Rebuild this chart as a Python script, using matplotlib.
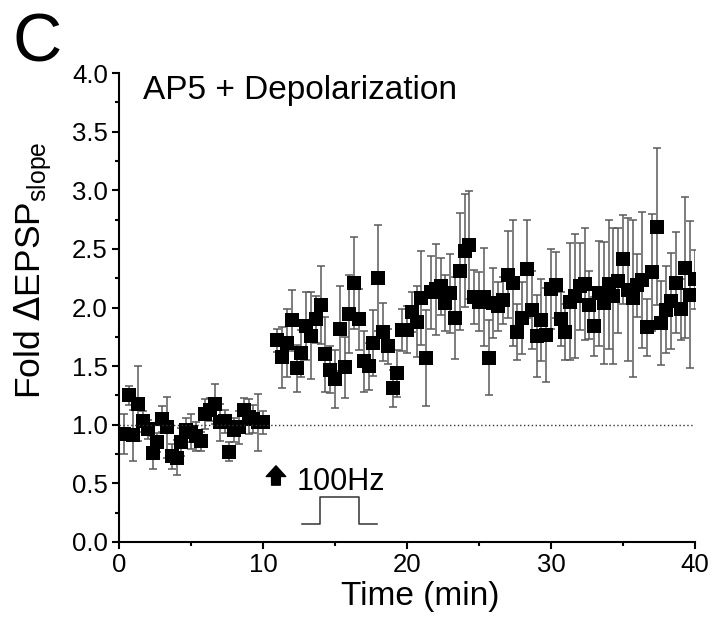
import numpy as np
import matplotlib
matplotlib.use("Agg")
import matplotlib.pyplot as plt
from matplotlib.ticker import MultipleLocator, FormatStrFormatter

plt.rcParams['font.family'] = ['Liberation Sans', 'DejaVu Sans']

# ---- data ----
base_time = [0.33, 0.67, 1.0, 1.33, 1.67, 2.0, 2.33, 2.67, 3.0, 3.33,
             3.67, 4.0, 4.33, 4.67, 5.0, 5.33, 5.67, 6.0, 6.33, 6.67,
             7.0, 7.33, 7.67, 8.0, 8.33, 8.67, 9.0, 9.33, 9.67, 10.0]
base_val = [0.92, 1.25, 0.91, 1.18, 1.03, 0.96, 0.76, 0.85, 1.05, 0.98,
            0.73, 0.72, 0.85, 0.955, 0.94, 0.90, 0.86, 1.09, 1.13, 1.18,
            1.02, 1.03, 0.77, 0.955, 0.98, 1.13, 1.07, 1.05, 1.02, 1.02]
base_err = [0.17, 0.08, 0.22, 0.32, 0.09, 0.08, 0.14, 0.08, 0.11, 0.26,
            0.11, 0.15, 0.12, 0.10, 0.15, 0.12, 0.08, 0.13, 0.10, 0.17,
            0.16, 0.10, 0.08, 0.10, 0.14, 0.10, 0.15, 0.12, 0.24, 0.10]

post_time = [11.0, 11.33, 11.67, 12.0, 12.33, 12.67, 13.0, 13.33, 13.67, 14.0,
             14.33, 14.67, 15.0, 15.33, 15.67, 16.0, 16.33, 16.67, 17.0, 17.33,
             17.67, 18.0, 18.33, 18.67, 19.0, 19.33, 19.67, 20.0, 20.33, 20.67,
             21.0, 21.33, 21.67, 22.0, 22.33, 22.67, 23.0, 23.33, 23.67, 24.0,
             24.33, 24.67, 25.0, 25.33, 25.67, 26.0, 26.33, 26.67, 27.0, 27.33,
             27.67, 28.0, 28.33, 28.67, 29.0, 29.33, 29.67, 30.0, 30.33, 30.67,
             31.0, 31.33, 31.67, 32.0, 32.33, 32.67, 33.0, 33.33, 33.67, 34.0,
             34.33, 34.67, 35.0, 35.33, 35.67, 36.0, 36.33, 36.67, 37.0, 37.33,
             37.67, 38.0, 38.33, 38.67, 39.0, 39.33, 39.67, 40.0]
post_val = [1.72, 1.575, 1.70, 1.89, 1.48, 1.61, 1.84, 1.76, 1.90, 2.02,
            1.60, 1.47, 1.39, 1.82, 1.49, 1.945, 2.21, 1.90, 1.54, 1.50,
            1.70, 2.25, 1.79, 1.67, 1.31, 1.44, 1.81, 1.81, 1.96, 1.88,
            2.08, 1.57, 2.13, 2.155, 2.18, 2.04, 2.12, 1.91, 2.31, 2.485,
            2.53, 2.09, 2.05, 2.09, 1.57, 2.04, 2.01, 2.06, 2.28, 2.21,
            1.79, 1.91, 2.33, 1.98, 1.76, 1.89, 1.765, 2.16, 2.19, 1.90,
            1.79, 2.05, 2.10, 2.18, 2.20, 2.02, 1.84, 2.12, 2.04, 2.20,
            2.10, 2.23, 2.41, 2.15, 2.08, 2.19, 2.235, 1.83, 2.30, 2.69,
            1.87, 1.98, 2.055, 2.21, 1.985, 2.34, 2.11, 2.24]
post_err = [0.10, 0.26, 0.29, 0.26, 0.20, 0.20, 0.29, 0.37, 0.20, 0.33,
            0.32, 0.20, 0.25, 0.36, 0.26, 0.33, 0.39, 0.26, 0.26, 0.20,
            0.28, 0.45, 0.25, 0.15, 0.16, 0.20, 0.18, 0.20, 0.17, 0.30,
            0.40, 0.41, 0.31, 0.39, 0.24, 0.24, 0.34, 0.35, 0.50, 0.48,
            0.46, 0.23, 0.25, 0.42, 0.32, 0.30, 0.21, 0.20, 0.37, 0.54,
            0.24, 0.31, 0.42, 0.33, 0.35, 0.35, 0.40, 0.34, 0.28, 0.23,
            0.24, 0.50, 0.53, 0.37, 0.48, 0.29, 0.25, 0.45, 0.52, 0.55,
            0.58, 0.45, 0.38, 0.61, 0.67, 0.27, 0.58, 0.24, 0.50, 0.67,
            0.36, 0.37, 0.41, 0.43, 0.26, 0.60, 0.63, 0.25]

stim_x = [12.7, 13.95, 13.95, 16.65, 16.65, 17.9]
stim_y = [0.155, 0.155, 0.38, 0.38, 0.155, 0.155]

xticks = [0, 10, 20, 30, 40]
yticks = [0.0, 0.5, 1.0, 1.5, 2.0, 2.5, 3.0, 3.5, 4.0]

# ---- figure ----
fig = plt.figure(figsize=(7.13, 6.19), dpi=100)
ax = fig.add_axes([0.1669, 0.1244, 0.8079, 0.7576])

time = base_time + post_time
val = base_val + post_val
err = base_err + post_err

ax.errorbar(time, val, yerr=err, fmt='none', ecolor='#5a5a5a',
            elinewidth=1.1, capsize=3.0, capthick=1.1, zorder=2)
ax.plot(time, val, 's', color='black', markersize=10, markeredgewidth=0, zorder=3)

ax.axhline(1.0, color='#333333', lw=1.0, ls=(0, (1, 1.8)), zorder=4)

# stimulation pulse
ax.plot(stim_x, stim_y, color='#333333', lw=1.1, zorder=2)
ax.annotate('', xy=(10.9, 0.65), xytext=(10.9, 0.485),
            arrowprops=dict(arrowstyle='simple,head_length=0.55,head_width=1.0,tail_width=0.45',
                            color='black', mutation_scale=14, shrinkA=0, shrinkB=0))
ax.text(12.3, 0.51, '100Hz', fontsize=22, va='center', ha='left')

ax.text(1.65, 3.78, 'AP5 + Depolarization', fontsize=24, va='baseline', ha='left')

ax.set_xlim(0, 40)
ax.set_ylim(0, 4.0)
ax.set_xticks(xticks)
ax.set_yticks(yticks)
ax.xaxis.set_minor_locator(MultipleLocator(5))
ax.yaxis.set_minor_locator(MultipleLocator(0.25))
ax.yaxis.set_major_formatter(FormatStrFormatter('%.1f'))

for s in ['top', 'right']:
    ax.spines[s].set_visible(False)
for s in ['left', 'bottom']:
    ax.spines[s].set_linewidth(1.5)

ax.tick_params(which='major', direction='out', length=5, width=1.5, labelsize=18.5, pad=3)
ax.tick_params(which='minor', direction='out', length=3, width=1.5)

ax.set_xlabel('Time (min)', fontsize=24)
ax.xaxis.set_label_coords(0.523, -0.134)
ax.xaxis.label.set_va('baseline')
ax.set_ylabel(r'Fold $\Delta$EPSP$_{\mathregular{slope}}$', fontsize=25.5)
ax.yaxis.set_label_coords(-0.113, 0.58)

fig.text(0.017, 0.9, 'C', fontsize=49, va='baseline', ha='left')

fig.savefig('out.png', dpi=100)
